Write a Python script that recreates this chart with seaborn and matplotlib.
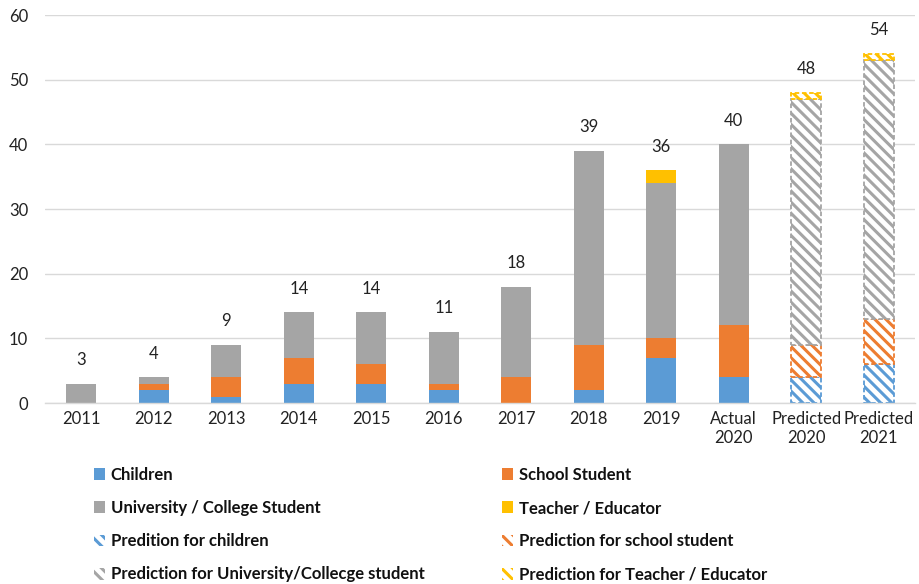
import matplotlib
matplotlib.use("Agg")
import matplotlib.pyplot as plt
import seaborn as sns
import pandas as pd
import numpy as np
from matplotlib.patches import Patch

categories = ["2011", "2012", "2013", "2014", "2015", "2016", "2017", "2018",
              "2019", "Actual\n2020", "Predicted\n2020", "Predicted\n2021"]
children = [0, 2, 1, 3, 3, 2, 0, 2, 7, 4, 4, 6]
school = [0, 1, 3, 4, 3, 1, 4, 7, 3, 8, 5, 7]
university = [3, 1, 5, 7, 8, 8, 14, 30, 24, 28, 38, 40]
teacher = [0, 0, 0, 0, 0, 0, 0, 0, 2, 0, 1, 1]
totals = [3, 4, 9, 14, 14, 11, 18, 39, 36, 40, 48, 54]
predicted_idx = [10, 11]

series_names = ["Children", "School Student", "University / College Student", "Teacher / Educator"]
pred_names = ["Predition for children", "Prediction for school student",
              "Prediction for University/Collecge student", "Prediction for Teacher / Educator"]
colors = ["#5B9BD5", "#ED7D31", "#A5A5A5", "#FFC000"]

sns.set_theme(style="white")
plt.rcParams["font.family"] = ["Lato", "DejaVu Sans"]
plt.rcParams["hatch.linewidth"] = 2.2

fig = plt.figure(figsize=(9.2, 5.84), dpi=100)
ax = fig.add_axes([45 / 920, (584 - 403) / 584, 870 / 920, 388 / 584])

layers = [children, school, university, teacher]
bottom = np.zeros(len(categories))
for vals, name, col in zip(layers, series_names, colors):
    df = pd.DataFrame({"cat": categories, "val": vals})
    n_before = len(ax.patches)
    sns.barplot(data=df, x="cat", y="val", order=categories, color=col,
                saturation=1, width=0.42, bottom=bottom, ax=ax, linewidth=0,
                edgecolor="none")
    new = ax.patches[n_before:]
    for i, p in enumerate(new):
        if i in predicted_idx and vals[i] > 0:
            p.set_facecolor("white")
            p.set_edgecolor(col)
            p.set_hatch("\\\\\\")
            p.set_linestyle((0, (2.5, 1.5)))
            p.set_linewidth(1.3)
        if vals[i] == 0:
            p.set_visible(False)
    bottom = bottom + np.array(vals)

for i, t in enumerate(totals):
    ax.annotate(str(t), (i, t), xytext=(0, 17), textcoords="offset points",
                ha="center", va="center", fontsize=12, color="#222222")

ax.set_ylim(0, 60)
ax.set_xlim(-0.5, len(categories) - 0.5)
ax.set_yticks(range(0, 61, 10))
ax.yaxis.grid(True, color="#D9D9D9", linewidth=1)
ax.set_axisbelow(True)
for s in ["top", "right", "left"]:
    ax.spines[s].set_visible(False)
ax.spines["bottom"].set_color("#D9D9D9")
ax.spines["bottom"].set_linewidth(1)
ax.set_xlabel("")
ax.set_ylabel("")
ax.tick_params(axis="both", length=0, labelsize=12, colors="#222222")
ax.tick_params(axis="y", pad=12)
ax.tick_params(axis="x", pad=6)


def make_handle(idx, pred):
    if pred:
        return Patch(facecolor="white", edgecolor=colors[idx], hatch="\\\\\\", linewidth=0)
    return Patch(facecolor=colors[idx], edgecolor="none")


left_items = [(0, False), (2, False), (0, True), (2, True)]
right_items = [(1, False), (3, False), (1, True), (3, True)]

for items, x0 in [(left_items, 94), (right_items, 502)]:
    hs = [make_handle(i, p) for i, p in items]
    ls = [pred_names[i] if p else series_names[i] for i, p in items]
    leg = fig.legend(hs, ls, loc="upper left",
                     bbox_to_anchor=(x0 / 920, 1 - 467 / 584),
                     frameon=False, prop={"weight": "bold", "size": 12},
                     handlelength=0.65, handleheight=0.7, handletextpad=0.35,
                     labelspacing=1.03, borderaxespad=0, borderpad=0)
    for t in leg.get_texts():
        t.set_color("#111111")

fig.savefig("out.png", dpi=100)
